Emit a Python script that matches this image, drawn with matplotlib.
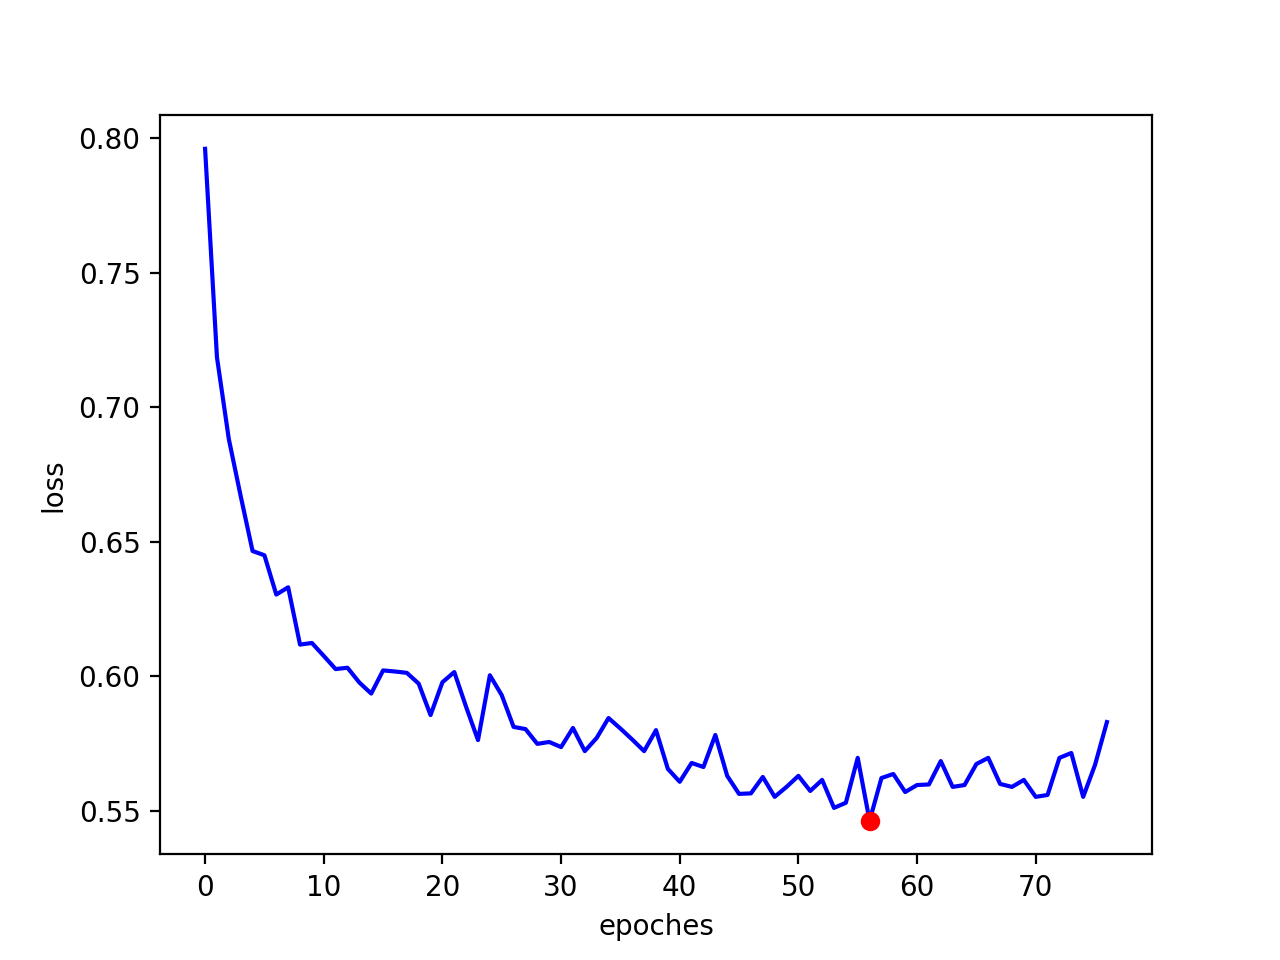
import matplotlib
matplotlib.use("Agg")
import matplotlib.pyplot as plt

# validation loss per epoch
loss = [
    0.7961, 0.7186, 0.6882, 0.6670, 0.6466, 0.6450, 0.6304, 0.6331, 0.6118, 0.6124,
    0.6076, 0.6027, 0.6032, 0.5977, 0.5936, 0.6022, 0.6018, 0.6013, 0.5973, 0.5856,
    0.5978, 0.6016, 0.5886, 0.5763, 0.6004, 0.5930, 0.5812, 0.5804, 0.5749, 0.5756,
    0.5737, 0.5808, 0.5722, 0.5771, 0.5845, 0.5806, 0.5765, 0.5722, 0.5800, 0.5656,
    0.5608, 0.5678, 0.5663, 0.5782, 0.5630, 0.5563, 0.5565, 0.5626, 0.5552, 0.5589,
    0.5630, 0.5574, 0.5615, 0.5511, 0.5530, 0.5697, 0.5463, 0.5622, 0.5637, 0.5570,
    0.5596, 0.5598, 0.5685, 0.5589, 0.5596, 0.5674, 0.5697, 0.5600, 0.5589, 0.5615,
    0.5552, 0.5559, 0.5697, 0.5715, 0.5552, 0.5671, 0.5830,
]
epochs = list(range(len(loss)))

# best epoch = lowest loss
best = loss.index(min(loss))

plt.figure(figsize=(6.4, 4.8))
plt.plot(epochs, loss, color="blue")
plt.plot(best, loss[best], "ro")
plt.xlabel("epoches")
plt.ylabel("loss")

plt.savefig("out.png", dpi=200)
plt.close()
